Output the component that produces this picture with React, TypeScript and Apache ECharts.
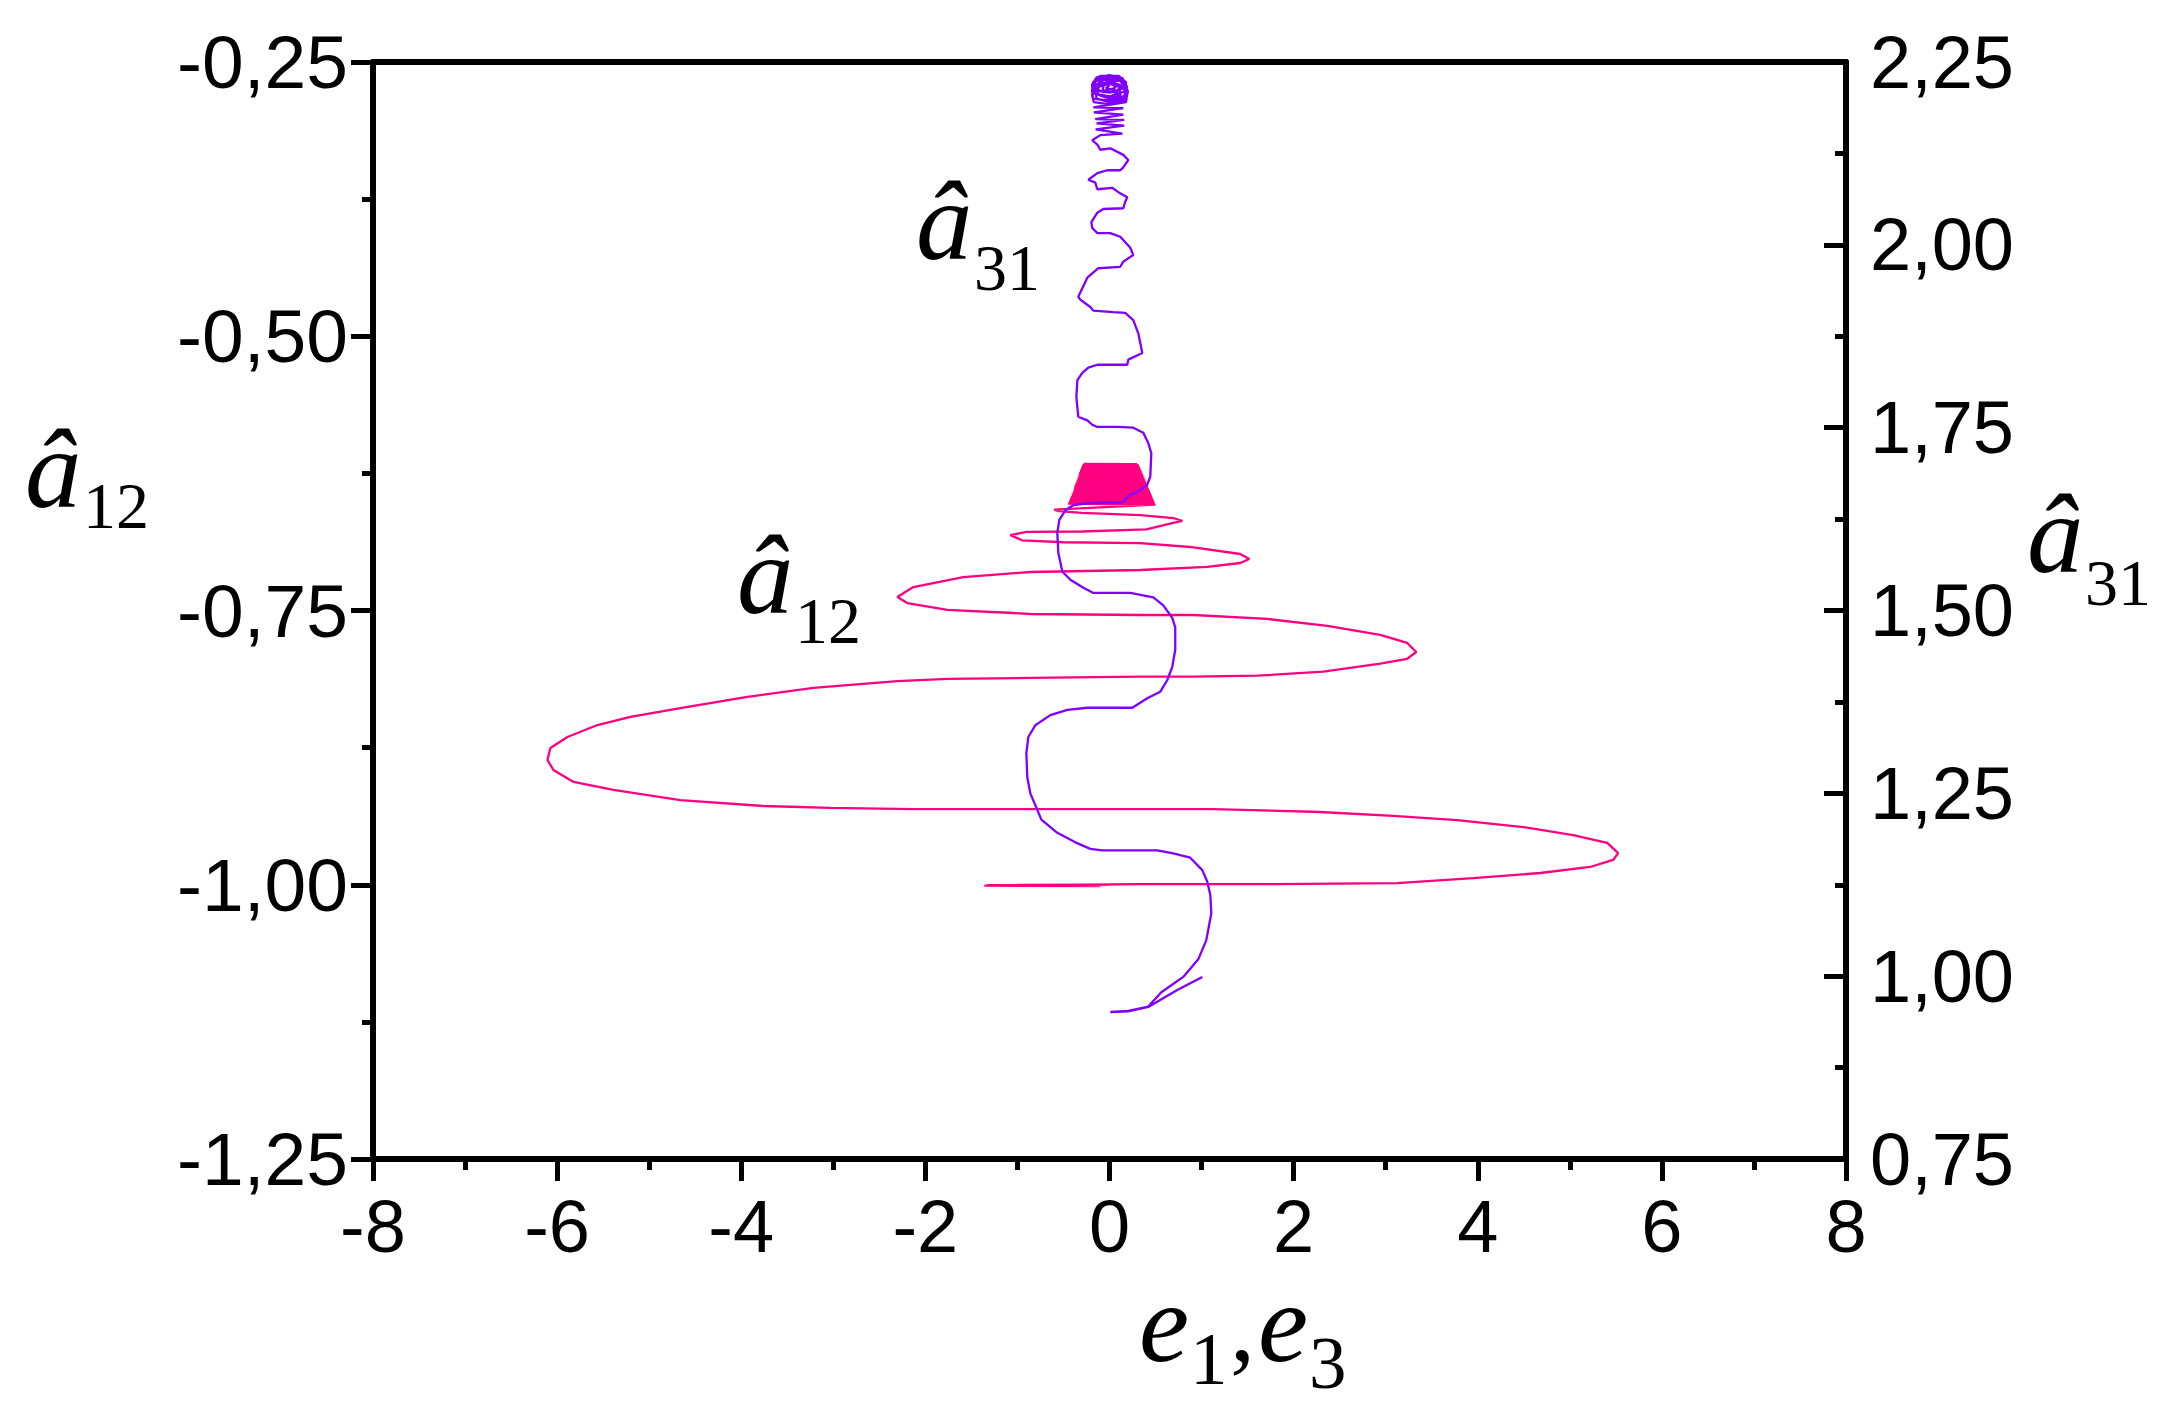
import React, { useEffect, useRef } from "react";
import * as echarts from "echarts";

const xTicks = { min: -8, max: 8, interval: 2 };
const leftTicks = { min: -1.25, max: -0.25, interval: 0.25 };
const rightTicks = { min: 0.75, max: 2.25, interval: 0.25 };

// a12 (left axis) vs e1
const a12Curve: number[][] = [
  [0.0, -1.0], [-1.36, -1.0008], [-0.1, -1.0012], [-1.33, -1.0004], [-0.3, -0.9998], [0.334, -0.9994],
  [1.778, -0.9994], [3.125, -0.9985], [3.951, -0.9939], [4.678, -0.9893], [5.221, -0.9838],
  [5.471, -0.9774], [5.525, -0.9711], [5.406, -0.9619], [5.037, -0.9547], [4.494, -0.9474],
  [3.777, -0.941], [3.082, -0.9373], [2.289, -0.9337], [1.127, -0.931], [-0.86, -0.931],
  [-2.131, -0.931], [-3.032, -0.93], [-3.759, -0.9282], [-4.661, -0.9228], [-5.388, -0.9136],
  [-5.822, -0.9063], [-6.04, -0.8954], [-6.105, -0.8863], [-6.073, -0.8753], [-5.888, -0.8653],
  [-5.562, -0.8544], [-5.204, -0.847], [-4.661, -0.8389], [-3.933, -0.8288], [-3.216, -0.8206],
  [-2.304, -0.8143], [-1.761, -0.8124], [-0.86, -0.8115], [0.334, -0.8103], [0.91, -0.8103],
  [1.605, -0.8094], [2.322, -0.8058], [2.941, -0.7985], [3.234, -0.794], [3.332, -0.7878],
  [3.234, -0.7796], [2.941, -0.7723], [2.366, -0.7641], [1.714, -0.7577], [0.91, -0.7541],
  [0.334, -0.7541], [-0.86, -0.7532], [-1.045, -0.7523], [-1.761, -0.7495], [-2.196, -0.7432],
  [-2.304, -0.7377], [-2.131, -0.7286], [-1.588, -0.7195], [-0.86, -0.7149], [0.334, -0.7131],
  [1.062, -0.7103], [1.42, -0.7067], [1.518, -0.703], [1.42, -0.6985], [0.877, -0.6921],
  [0.334, -0.6885], [-0.5, -0.6878], [-0.95, -0.686], [-1.077, -0.6813], [-0.9, -0.6784],
  [-0.3, -0.678], [0.4, -0.676], [0.693, -0.6702], [0.791, -0.6684], [0.693, -0.6657],
  [0.334, -0.663], [-0.3, -0.661], [-0.55, -0.6595], [-0.6, -0.658],
  [0.5, -0.6535], [-0.45, -0.6525], [0.49, -0.6515], [-0.44, -0.6505], [0.48, -0.6495],
  [-0.43, -0.6485], [0.47, -0.6475], [-0.42, -0.6465], [0.46, -0.6455], [-0.41, -0.6445],
  [0.45, -0.6435], [-0.4, -0.6425], [0.44, -0.6415], [-0.39, -0.6405], [0.43, -0.6395],
  [-0.385, -0.6385], [0.42, -0.6375], [-0.38, -0.6365], [0.41, -0.6355], [-0.37, -0.6345],
  [0.4, -0.6335], [-0.36, -0.6325], [0.39, -0.6315], [-0.35, -0.6305], [0.38, -0.6295],
  [-0.34, -0.6285], [0.37, -0.6275], [-0.335, -0.6265], [0.36, -0.6255], [-0.33, -0.6245],
  [0.35, -0.6235], [-0.32, -0.6225], [0.34, -0.6215], [-0.31, -0.6205], [0.33, -0.6195],
  [-0.3, -0.6185], [0.32, -0.6178], [-0.29, -0.6172], [0.3, -0.6167], [-0.28, -0.6163],
];

// a31 (right axis) vs e3
const a31Curve: number[][] = [
  [1.008, 0.999], [0.736, 0.981], [0.421, 0.958], [0.204, 0.952], [0.009, 0.951],
  [0.204, 0.9525], [0.421, 0.9585], [0.563, 0.978], [0.801, 0.999], [0.964, 1.023],
  [1.051, 1.049], [1.106, 1.086], [1.095, 1.111], [1.062, 1.129], [1.008, 1.145],
  [0.877, 1.162], [0.693, 1.168], [0.52, 1.172], [-0.078, 1.172], [-0.208, 1.174],
  [-0.371, 1.183], [-0.567, 1.196], [-0.74, 1.214], [-0.86, 1.25], [-0.893, 1.272],
  [-0.903, 1.305], [-0.882, 1.327], [-0.806, 1.343], [-0.643, 1.357], [-0.458, 1.364],
  [-0.241, 1.367], [0.248, 1.367], [0.41, 1.38], [0.552, 1.389], [0.628, 1.405],
  [0.682, 1.423], [0.714, 1.446], [0.714, 1.477], [0.682, 1.49], [0.584, 1.507],
  [0.476, 1.518], [0.226, 1.524], [-0.175, 1.524], [-0.284, 1.531], [-0.425, 1.542],
  [-0.512, 1.553], [-0.556, 1.579], [-0.567, 1.606], [-0.545, 1.624], [-0.48, 1.637],
  [-0.393, 1.644], [-0.208, 1.647], [0.15, 1.648], [0.205, 1.657], [0.302, 1.662],
  [0.41, 1.672], [0.443, 1.683], [0.454, 1.715], [0.421, 1.729], [0.367, 1.743],
  [0.258, 1.75], [0.085, 1.751], [-0.132, 1.751], [-0.187, 1.754], [-0.241, 1.76],
  [-0.339, 1.765], [-0.36, 1.792], [-0.349, 1.815], [-0.295, 1.825], [-0.23, 1.832],
  [-0.132, 1.836], [0.193, 1.836], [0.204, 1.843], [0.356, 1.852], [0.313, 1.879],
  [0.258, 1.897], [0.171, 1.907], [0.041, 1.908], [-0.176, 1.91], [-0.208, 1.915],
  [-0.317, 1.925], [-0.339, 1.929], [-0.241, 1.955], [-0.121, 1.968], [0.117, 1.97],
  [0.15, 1.977], [0.258, 1.986], [0.226, 1.996], [0.117, 2.011], [0.009, 2.016],
  [-0.132, 2.016], [-0.187, 2.023], [-0.197, 2.031], [-0.132, 2.044], [-0.067, 2.049],
  [0.15, 2.05], [0.171, 2.059], [0.193, 2.065], [0.096, 2.072], [0.03, 2.078],
  [-0.132, 2.076], [-0.154, 2.085], [-0.23, 2.089], [-0.132, 2.098], [-0.024, 2.102],
  [0.117, 2.102], [0.15, 2.106], [0.204, 2.116], [0.15, 2.123], [0.009, 2.132],
  [-0.1, 2.13], [-0.132, 2.137], [-0.187, 2.143], [-0.1, 2.15], [0.14, 2.152],
  [-0.15, 2.158], [0.16, 2.163], [-0.14, 2.166], [0.16, 2.171], [-0.155, 2.172],
  [0.15, 2.178], [-0.17, 2.181], [0.15, 2.187], [-0.175, 2.188],
  [0.18, 2.195], [0.19, 2.205], [0.15, 2.215], [0.0, 2.22], [-0.15, 2.215], [-0.19, 2.205],
  [-0.17, 2.195], [0.0, 2.192], [0.18, 2.198], [0.2, 2.21], [0.16, 2.222], [0.0, 2.228],
  [-0.15, 2.224], [-0.19, 2.212], [-0.18, 2.2], [0.0, 2.197], [0.17, 2.204], [0.19, 2.216],
  [0.14, 2.228], [0.0, 2.232], [-0.14, 2.229], [-0.19, 2.219], [-0.18, 2.207], [0.0, 2.203],
  [0.17, 2.21], [0.18, 2.222], [0.1, 2.231], [-0.1, 2.231], [-0.18, 2.222], [-0.17, 2.212],
  [0.0, 2.208], [0.15, 2.214], [0.15, 2.225], [0.0, 2.23], [-0.15, 2.226], [-0.16, 2.217],
  [-0.14, 2.2], [0.0, 2.195], [0.16, 2.2], [0.17, 2.212], [0.12, 2.224], [-0.05, 2.226],
  [-0.16, 2.218], [-0.1, 2.21], [0.05, 2.214], [0.1, 2.22], [0.12, 2.205], [0.0, 2.2],
  [-0.12, 2.205], [-0.13, 2.218], [0.0, 2.224], [0.12, 2.218], [0.08, 2.209], [-0.08, 2.209],
  [-0.06, 2.22], [0.06, 2.222], [0.05, 2.212], [-0.04, 2.214], [0.0, 2.218],
];

const PINK = "#FF0080";
const PURPLE = "#8000FF";
const SERIF = "'Liberation Serif', 'Times New Roman', serif";
const SANS = "'Liberation Sans', Arial, Helvetica, sans-serif";

const comma = (v: number) => v.toFixed(2).replace(".", ",");

function txt(text: string, x: number, y: number, size: number, italic: boolean) {
  return {
    type: "text",
    x,
    y,
    z: 100,
    style: {
      text,
      fontSize: size,
      fontFamily: SERIF,
      fontStyle: italic ? "italic" : "normal",
      fill: "#000",
      align: "left",
      verticalAlign: "middle",
    },
  };
}

export default function App() {
  const ref = useRef<HTMLDivElement>(null);
  useEffect(() => {
    if (!ref.current) return;
    const chart = echarts.init(ref.current, undefined, { renderer: "svg" });
    const axisLine = { show: true, onZero: false, lineStyle: { color: "#000", width: 6 } };
    const tickStyle = { color: "#000", width: 5 };
    chart.setOption({
      animation: false,
      backgroundColor: "#fff",
      grid: { left: 373, right: 317, top: 62, bottom: 250, containLabel: false },
      xAxis: [
        {
          type: "value",
          position: "bottom",
          min: xTicks.min,
          max: xTicks.max,
          interval: xTicks.interval,
          axisLine,
          axisTick: { show: true, length: 22, inside: false, lineStyle: tickStyle },
          minorTick: { show: true, splitNumber: 2, length: 11, lineStyle: tickStyle },
          splitLine: { show: false },
          axisLabel: { fontSize: 74, color: "#000", fontFamily: SANS, margin: 30, formatter: (v: number) => String(v) },
        },
        {
          type: "value",
          position: "top",
          min: xTicks.min,
          max: xTicks.max,
          interval: xTicks.interval,
          axisLine,
          axisTick: { show: false },
          axisLabel: { show: false },
          splitLine: { show: false },
        },
      ],
      yAxis: [
        {
          type: "value",
          position: "left",
          min: leftTicks.min,
          max: leftTicks.max,
          interval: leftTicks.interval,
          axisLine,
          axisTick: { show: true, length: 22, inside: false, lineStyle: tickStyle },
          minorTick: { show: true, splitNumber: 2, length: 11, lineStyle: tickStyle },
          splitLine: { show: false },
          axisLabel: { fontSize: 75, color: "#000", fontFamily: SANS, margin: 25, formatter: comma },
        },
        {
          type: "value",
          position: "right",
          min: rightTicks.min,
          max: rightTicks.max,
          interval: rightTicks.interval,
          axisLine,
          axisTick: { show: true, length: 22, inside: true, lineStyle: tickStyle },
          minorTick: { show: true, splitNumber: 2, length: 11, lineStyle: tickStyle },
          splitLine: { show: false },
          axisLabel: { fontSize: 74, color: "#000", fontFamily: SANS, margin: 24, formatter: comma },
        },
      ],
      series: [
        {
          type: "line",
          name: "a12",
          xAxisIndex: 0,
          yAxisIndex: 0,
          data: a12Curve,
          showSymbol: false,
          symbol: "none",
          lineStyle: { color: PINK, width: 2.3 },
          z: 3,
        },
        {
          type: "line",
          name: "a31",
          xAxisIndex: 0,
          yAxisIndex: 1,
          data: a31Curve,
          showSymbol: false,
          symbol: "none",
          lineStyle: { color: PURPLE, width: 2.3 },
          z: 4,
        },
      ],
      graphic: [
        // left axis title
        txt("â", 25, 468, 113, true),
        txt("12", 83, 505, 66, false),
        // right axis title
        txt("â", 2027, 533, 113, true),
        txt("31", 2085, 582, 66, false),
        // curve labels
        txt("â", 737, 574, 113, true),
        txt("12", 795, 620, 66, false),
        txt("â", 916, 220, 113, true),
        txt("31", 974, 267, 66, false),
        // x axis title
        txt("e", 1139, 1322, 113, true),
        txt("1", 1190, 1358, 75, false),
        txt(",", 1230, 1326, 100, false),
        txt("e", 1258, 1322, 113, true),
        txt("3", 1309, 1362, 75, false),
      ],
    });
    return () => chart.dispose();
  }, []);
  return (
    <div
      ref={ref}
      style={{ position: "fixed", left: 0, top: 0, width: 2163, height: 1409, background: "#fff" }}
    />
  );
}
